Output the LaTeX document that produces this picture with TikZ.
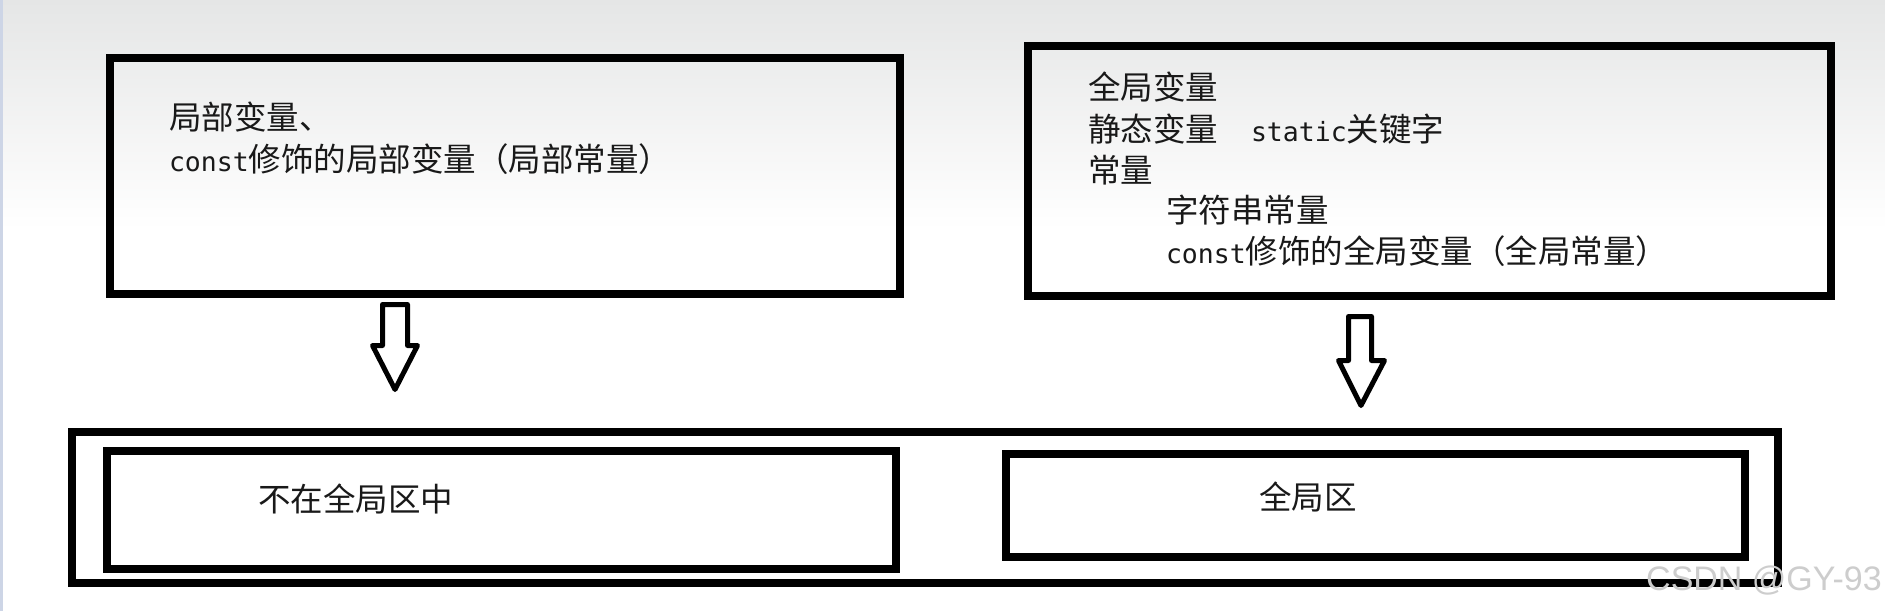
\documentclass[tikz,border=0pt]{standalone}
\usepackage{fontspec}
\newfontfamily\cjk{Noto Sans CJK SC}
\newfontfamily\lat{DejaVu Sans Mono}
\newfontfamily\wm{Liberation Sans}
\newcommand{\cn}{\cjk\fontsize{32.5}{41}\selectfont}
\newcommand{\lt}[1]{{\lat\fontsize{26.5}{41}\selectfont #1}}
\definecolor{topgray}{RGB}{229,230,230}
\definecolor{edgeblue}{RGB}{205,213,230}
\definecolor{wmgray}{RGB}{205,205,205}
\definecolor{txt}{RGB}{25,25,25}
\tikzset{
  boxframe/.style={draw=black, line width=8pt, inner sep=0pt, fill=none},
  label text/.style={anchor=base west, inner sep=0pt, outer sep=0pt, font=\cn, text=txt},
  blockarrow/.style={draw=black, fill=white, line width=5pt, line join=round},
}
\begin{document}
\begin{tikzpicture}[x=1pt,y=-1pt]
\useasboundingbox (0,0) rectangle (1885,611);
\fill[white] (0,0) rectangle (1885,611);
\shade[top color=topgray, bottom color=white] (0,0) rectangle (1885,230);
\fill[edgeblue] (0,0) rectangle (3,611);

% boxes
\node[boxframe, minimum width=790pt, minimum height=236pt] (tl) at (505,176) {};
\node[boxframe, minimum width=803pt, minimum height=250pt] (tr) at (1429.5,171) {};
\node[boxframe, minimum width=1706pt, minimum height=151pt] (outer) at (925,507.5) {};
\node[boxframe, minimum width=789pt, minimum height=118pt] (bl) at (501.5,510) {};
\node[boxframe, minimum width=739pt, minimum height=103pt] (br) at (1375.5,505.5) {};

% texts left box
\node[label text] (l1) at (169,129.5) {局部变量、};
\node[label text] (l2) at (169,171.5) {\lt{const}修饰的局部变量（局部常量）};

% texts right box
\node[label text] (r1) at (1088,99) {全局变量};
\node[label text] (r2) at (1088,141) {静态变量\hspace{33pt}\lt{static}关键字};
\node[label text] (r3) at (1088,182.5) {常量};
\node[label text] (r4) at (1166,222.5) {字符串常量};
\node[label text] (r5) at (1166,263.5) {\lt{const}修饰的全局变量（全局常量）};

% texts bottom
\node[label text] (b1) at (258,511.5) {不在全局区中};
\node[label text] (b2) at (1259,509.5) {全局区};

% block arrows
\draw[blockarrow] (382.5,304.5) -- (407.5,304.5) -- (407.5,345.5) -- (417.5,345.5)
  -- (395,389.5) -- (372.5,345.5) -- (382.5,345.5) -- cycle;
\draw[blockarrow] (1348.5,316.5) -- (1371.5,316.5) -- (1371.5,360.5) -- (1384.5,360.5)
  -- (1361,405.5) -- (1338.5,360.5) -- (1348.5,360.5) -- cycle;

% watermark
\node[anchor=base west, inner sep=0pt, font=\wm\fontsize{34}{38}\selectfont, text=wmgray] (wm) at (1646,590) {CSDN @GY-93};
\end{tikzpicture}
\end{document}
